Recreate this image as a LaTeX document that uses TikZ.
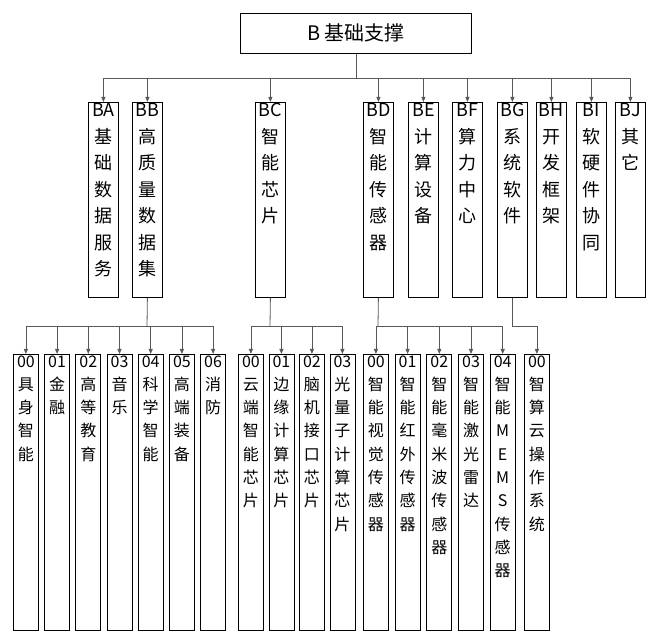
\documentclass[tikz,border=0pt]{standalone}
\usepackage{fontspec}
\setmainfont{Noto Sans CJK SC}
\usetikzlibrary{arrows.meta}
\newcommand\vtx[4]{\parbox[c][#1][t]{#2}{\centering\fontsize{#3}{#4}\selectfont\vspace{3pt}\ignorespaces}}
\newcommand\colA[1]{\parbox[c][195pt][t]{30pt}{\centering\fontsize{18}{26.5}\selectfont\vspace*{1pt}#1}}
\newcommand\colB[1]{\parbox[c][276pt][t]{25pt}{\centering\fontsize{16}{23.3}\selectfont\vspace*{1pt}#1}}
\begin{document}
\begin{tikzpicture}[x=1pt,y=-1pt,
  box/.style={draw, line width=0.8pt, inner sep=0pt, anchor=north west},
  con/.style={draw=black!65, line width=0.8pt},
  arr/.style={con, -{Triangle[length=5pt,width=4pt]}}]
\useasboundingbox (0,0) rectangle (659,644);
\node[box, minimum width=231pt, minimum height=40pt, font=\fontsize{20}{24}\selectfont] (top) at (240,13) {B 基础支撑};
% level 2
\node[box] (ba) at (88,102) {\colA{BA\\基\\础\\数\\据\\服\\务}};
\node[box] (bb) at (132,102) {\colA{BB\\高\\质\\量\\数\\据\\集}};
\node[box] (bc) at (255,102) {\colA{BC\\智\\能\\芯\\片}};
\node[box] (bd) at (363,102) {\colA{BD\\智\\能\\传\\感\\器}};
\node[box] (be) at (408,102) {\colA{BE\\计\\算\\设\\备}};
\node[box] (bf) at (452,102) {\colA{BF\\算\\力\\中\\心}};
\node[box] (bg) at (497,102) {\colA{BG\\系\\统\\软\\件}};
\node[box] (bh) at (536,102) {\colA{BH\\开\\发\\框\\架}};
\node[box] (bi) at (576,102) {\colA{BI\\软\\硬\\件\\协\\同}};
\node[box] (bj) at (615,102) {\colA{BJ\\其\\它}};
\coordinate (tj) at (356,78);
\draw[con] (top.south -| tj) -- (tj);
\draw[con] (103,78) -- (631,78);
\foreach \n in {ba,bb,bc,bd,be,bf,bg,bh,bi,bj}{\draw[arr] (\n.north |- tj) -- (\n.north);}
% level 3 group BB
\foreach \t [count=\i from 0] in {{00\\具\\身\\智\\能},{01\\金\\融},{02\\高\\等\\教\\育},{03\\音\\乐},{04\\科\\学\\智\\能},{05\\高\\端\\装\\备},{06\\消\\防}}{
  \node[box] (a\i) at ({13+31.2*\i},354) {\colB{\t}};}
\coordinate (ja) at (147,326);
\draw[con] (bb.south) -- (ja);
\draw[con] (a0.north |- ja) -- (a6.north |- ja);
\foreach \i in {0,...,6}{\draw[arr] (a\i.north |- ja) -- (a\i.north);}
% group BC
\foreach \t [count=\i from 0] in {{00\\云\\端\\智\\能\\芯\\片},{01\\边\\缘\\计\\算\\芯\\片},{02\\脑\\机\\接\\口\\芯\\片},{03\\光\\量\\子\\计\\算\\芯\\片}}{
  \node[box] (c\i) at ({238+30.5*\i},354) {\colB{\t}};}
\coordinate (jc) at (270,326);
\draw[con] (bc.south) -- (jc);
\draw[con] (c0.north |- jc) -- (c3.north |- jc);
\foreach \i in {0,...,3}{\draw[arr] (c\i.north |- jc) -- (c\i.north);}
% group BD
\foreach \t [count=\i from 0] in {{00\\智\\能\\视\\觉\\传\\感\\器},{01\\智\\能\\红\\外\\传\\感\\器},{02\\智\\能\\毫\\米\\波\\传\\感\\器},{03\\智\\能\\激\\光\\雷\\达},{04\\智\\能\\M\\E\\M\\S\\传\\感\\器}}{
  \node[box] (d\i) at ({363+31.7*\i},354) {\colB{\t}};}
\coordinate (jd) at (378,326);
\draw[con] (bd.south) -- (jd);
\draw[con] (d0.north |- jd) -- (d4.north |- jd);
\foreach \i in {0,...,4}{\draw[arr] (d\i.north |- jd) -- (d\i.north);}
% group BG
\node[box] (g0) at (524,354) {\colB{00\\智\\算\\云\\操\\作\\系\\统}};
\coordinate (jg) at (512,326);
\draw[con] (bg.south -| jg) -- (jg) -- (g0.north |- jg);
\draw[arr] (g0.north |- jg) -- (g0.north);
\end{tikzpicture}
\end{document}
